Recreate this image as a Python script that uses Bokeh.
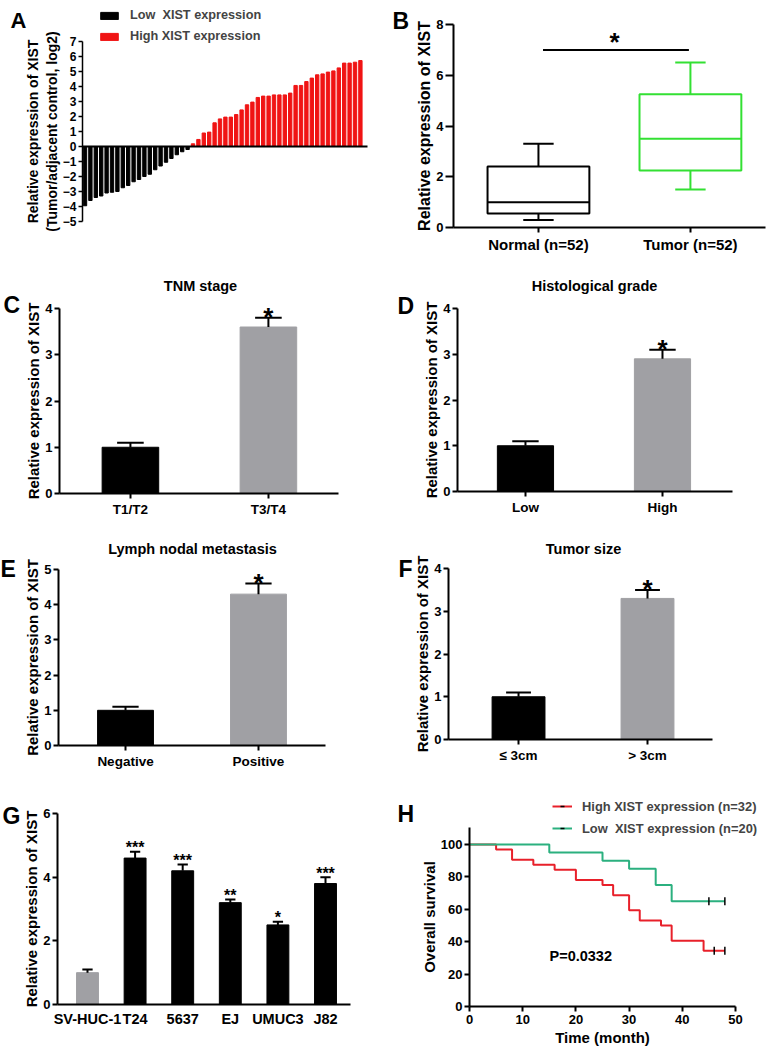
import math
from bokeh.plotting import figure
from bokeh.models import Range1d, FixedTicker, Label, Legend, LegendItem, ColumnDataSource
from bokeh.layouts import row, column
from bokeh.embed import file_html
from bokeh.resources import INLINE
from bokeh.core.properties import value

FONT = "Liberation Sans"
GREY = "#a0a0a4"
RED_A = "#f01414"
GREEN_B = "#33e033"
RED_H = "#e8202a"
GREEN_H = "#2bb07f"

# ---------------- data ----------------
a_low = [-3.95, -3.6, -3.4, -3.3, -3.1, -3.05, -3.0, -2.75, -2.6, -2.35,
         -2.2, -2.0, -1.85, -1.55, -1.3, -1.05, -0.8, -0.55, -0.35, -0.2]
a_high = [0.18, 0.47, 0.9, 0.96, 1.58, 1.84, 1.96, 1.96, 2.13, 2.44, 2.78, 2.96,
          3.27, 3.36, 3.36, 3.44, 3.44, 3.44, 3.56, 4.07, 4.07, 4.33, 4.56, 4.78,
          4.84, 4.96, 5.04, 5.24, 5.56, 5.56, 5.62, 5.73]
a_ticks = list(range(-5, 8))
a_legend = ["Low  XIST expression", "High XIST expression"]

b_groups = ["Normal (n=52)", "Tumor (n=52)"]
b_min = [0.3, 1.5]
b_q1 = [0.55, 2.25]
b_med = [1.0, 3.5]
b_q3 = [2.4, 5.25]
b_max = [3.3, 6.5]
b_ticks = [0, 2, 4, 6, 8]
b_sig_y = 7.0

c_cats = ["T1/T2", "T3/T4"]; c_mean = [1.0, 3.6]; c_err = [0.1, 0.2]; c_stars = ["", "*"]
d_cats = ["Low", "High"]; d_mean = [1.0, 2.9]; d_err = [0.1, 0.2]; d_stars = ["", "*"]
e_cats = ["Negative", "Positive"]; e_mean = [1.0, 4.3]; e_err = [0.1, 0.3]; e_stars = ["", "*"]
f_cats = ["\u2264 3cm", "> 3cm"]; f_mean = [1.0, 3.3]; f_err = [0.1, 0.2]; f_stars = ["", "*"]
g_cats = ["SV-HUC-1", "T24", "5637", "EJ", "UMUC3", "J82"]
g_mean = [1.0, 4.6, 4.2, 3.2, 2.5, 3.8]
g_err = [0.1, 0.2, 0.2, 0.1, 0.1, 0.2]
g_stars = ["", "***", "***", "**", "*", "***"]

h_high_t = [0, 5, 8, 12, 16, 20, 25, 27, 30, 32, 36, 38, 44, 48]
h_high_s = [100, 96.9, 90.6, 87.5, 84.4, 78.1, 75.0, 68.75, 59.4, 53.1, 50.0, 40.6, 34.4, 34.4]
h_high_cens_t = [46, 48]
h_low_t = [0, 15, 25, 30, 35, 38, 48]
h_low_s = [100, 95, 90, 85, 75, 65, 65]
h_low_cens_t = [45, 48]
h_legend = ["High XIST expression (n=32)", "Low  XIST expression (n=20)"]

# ---------------- layout (reference pixel coordinates) ----------------
COL_X = [0, 390]
COL_W = [390, 379]
ROW_Y = [0, 254, 515, 770]
ROW_H = [254, 261, 255, 279]


class Geo:
    def __init__(self, ox, oy, W, H, x0, y1, sx, sy):
        self.ox, self.oy, self.W, self.H = ox, oy, W, H
        self.x0, self.y1, self.sx, self.sy = x0, y1, sx, sy

    def dx(self, rx):
        return self.x0 + (rx - self.ox) / self.sx

    def dy(self, ry):
        return self.y1 - (ry - self.oy) / self.sy


def new_fig(col, rowi, frame, xr, yr, ybounds=None):
    fl, ft, fr, fb = frame
    W, H = COL_W[col], ROW_H[rowi]
    ox, oy = COL_X[col], ROW_Y[rowi]
    sx = (fr - fl) / (xr[1] - xr[0])
    sy = (fb - ft) / (yr[1] - yr[0])
    x0 = xr[0] - (fl - ox) / sx
    x1 = xr[1] + (ox + W - fr) / sx
    y0 = yr[0] - (oy + H - fb) / sy
    y1 = yr[1] + (ft - oy) / sy
    p = figure(width=W, height=H, x_range=Range1d(x0, x1), y_range=Range1d(y0, y1),
               output_backend="svg", toolbar_location=None,
               min_border_left=0, min_border_right=0, min_border_top=0, min_border_bottom=0)
    p.xgrid.visible = False
    p.ygrid.visible = False
    p.outline_line_color = None
    p.xaxis.fixed_location = yr[0]
    p.xaxis.bounds = tuple(xr)
    p.yaxis.fixed_location = xr[0]
    p.yaxis.bounds = tuple(ybounds if ybounds else yr)
    for ax in p.axis:
        ax.axis_line_width = 2
        ax.major_tick_line_width = 2
        ax.major_tick_in = 0
        ax.major_tick_out = 5
        ax.minor_tick_line_color = None
        ax.major_label_text_font = FONT
        ax.major_label_text_font_style = "bold"
        ax.major_label_text_font_size = "13px"
        ax.major_label_text_color = "black"
        ax.major_label_standoff = 2
        ax.axis_label_text_font = FONT
        ax.axis_label_text_font_style = "bold"
        ax.axis_label_text_font_size = "15px"
        ax.axis_label_text_color = "black"
        ax.axis_label_standoff = 0
    return p, Geo(ox, oy, W, H, x0, y1, sx, sy)


def ref_text(p, g, text, rx, ry, size, align="left", style="bold"):
    p.add_layout(Label(x=g.dx(rx), y=g.dy(ry), text=text, text_font=FONT,
                       text_font_style=style, text_font_size=size, text_align=align,
                       text_baseline="alphabetic", text_color="black"))


def legend_loc(g, rx, ry_bottom):
    return (rx - g.ox, g.oy + g.H - ry_bottom)


def cat_axis(p, cats, size="13px"):
    xs = list(range(len(cats)))
    p.xaxis.ticker = FixedTicker(ticks=xs)
    p.xaxis.major_label_overrides = {i: c for i, c in enumerate(cats)}
    p.xaxis.major_label_text_font_size = size
    p.xaxis.major_label_standoff = 3
    return xs


def bar_panel(col, rowi, frame, xr, ymax, yticks, cats, means, errs, stars,
              colors, bw, star_size, star_off, label_size="13.5px", xtick_out=5):
    p, g = new_fig(col, rowi, frame, xr, (0, ymax))
    xs = cat_axis(p, cats, label_size)
    p.xaxis.major_tick_out = xtick_out
    p.yaxis.ticker = FixedTicker(ticks=yticks)
    p.yaxis.axis_label = "Relative expression of XIST"
    tops = [m + e for m, e in zip(means, errs)]
    cap = bw * 0.47
    src = ColumnDataSource(dict(x=xs, m=means, t=tops, c=colors,
                                x0=[x - cap / 2 for x in xs], x1=[x + cap / 2 for x in xs],
                                s=stars))
    p.vbar(x="x", top="m", bottom=0, width=bw, fill_color="c", line_color="c", source=src)
    p.segment(x0="x", y0="m", x1="x", y1="t", line_color="black", line_width=2, source=src)
    p.segment(x0="x0", y0="t", x1="x1", y1="t", line_color="black", line_width=2, source=src)
    p.text(x="x", y="t", text="s", source=src, text_font=value(FONT), text_font_style="bold",
           text_font_size=star_size, text_align="center", text_baseline="alphabetic",
           text_color="black", y_offset=star_off)
    return p, g


# ---------------- Panel A ----------------
fA = (82, 41, 367, 221)
pA, gA = new_fig(0, 0, fA, (-0.463, 52.315), (-5, 7))
pA.xaxis.fixed_location = 0
pA.xaxis.ticker = FixedTicker(ticks=[])
pA.xaxis.major_tick_out = 0
pA.yaxis.ticker = FixedTicker(ticks=a_ticks)
pA.yaxis.axis_line_width = 1.5
pA.yaxis.major_tick_line_width = 1.5
pA.yaxis.major_tick_out = 4
pA.yaxis.major_label_text_font_size = "12px"
pA.yaxis.axis_label = "Relative expression of XIST\n(Tumor/adjacent control, log2)"
pA.yaxis.axis_label_text_font_size = "14px"
n_low = len(a_low)
rl = pA.vbar(x=list(range(n_low)), top=a_low, bottom=0, width=0.62,
             fill_color="black", line_color="black")
rh = pA.vbar(x=list(range(n_low, n_low + len(a_high))), top=a_high, bottom=0, width=0.62,
             fill_color=RED_A, line_color=RED_A)
legA = Legend(items=[LegendItem(label=a_legend[0], renderers=[rl]),
                     LegendItem(label=a_legend[1], renderers=[rh])],
              location=legend_loc(gA, 98, 44), glyph_width=22, glyph_height=9, label_standoff=10,
              spacing=5, padding=0, margin=0, label_height=16,
              label_text_font=FONT, label_text_font_style="bold", label_text_font_size="12.7px",
              border_line_color=None, background_fill_alpha=0)
pA.add_layout(legA)
ref_text(pA, gA, "A", 10, 20, "22px")

# ---------------- Panel B ----------------
fB = (453, 24, 765, 227)
pB, gB = new_fig(1, 0, fB, (-0.559, 1.494), (0, 8))
xsB = cat_axis(pB, b_groups, "15px")
pB.yaxis.ticker = FixedTicker(ticks=b_ticks)
pB.yaxis.axis_label = "Relative expression of XIST"
pB.yaxis.axis_label_text_font_size = "16px"
pB.yaxis.major_tick_out = 8
bw, cw = 0.67, 0.2
srcB = ColumnDataSource(dict(x=xsB, lo=b_min, q1=b_q1, med=b_med, q3=b_q3, hi=b_max,
                             c=["black", GREEN_B],
                             bx0=[x - bw / 2 for x in xsB], bx1=[x + bw / 2 for x in xsB],
                             cx0=[x - cw / 2 for x in xsB], cx1=[x + cw / 2 for x in xsB]))
pB.segment(x0="x", y0="lo", x1="x", y1="q1", line_color="c", line_width=2, source=srcB)
pB.segment(x0="x", y0="q3", x1="x", y1="hi", line_color="c", line_width=2, source=srcB)
pB.segment(x0="cx0", y0="lo", x1="cx1", y1="lo", line_color="c", line_width=2, source=srcB)
pB.segment(x0="cx0", y0="hi", x1="cx1", y1="hi", line_color="c", line_width=2, source=srcB)
pB.vbar(x="x", bottom="q1", top="q3", width=bw, fill_color="white", line_color="c",
        line_width=2, source=srcB)
pB.segment(x0="bx0", y0="med", x1="bx1", y1="med", line_color="c", line_width=2, source=srcB)
pB.segment(x0=[xsB[0] + 0.03], y0=[b_sig_y], x1=[xsB[1] - 0.01], y1=[b_sig_y],
           line_color="black", line_width=2)
pB.text(x=[(xsB[0] + xsB[1]) / 2], y=[b_sig_y], text=["*"], text_font=value(FONT),
        text_font_style="bold", text_font_size="26px", text_align="center",
        text_baseline="alphabetic", y_offset=-8)
ref_text(pB, gB, "B", 392, 20, "23px")

# ---------------- Panel C ----------------
fC = (59, 308, 338, 493)
pC, gC = bar_panel(0, 1, fC, (-0.514, 1.508), 4, [0, 1, 2, 3, 4], c_cats, c_mean, c_err,
                   c_stars, ["black", GREY], 0.41, "26px", -1)
ref_text(pC, gC, "TNM stage", 200, 285, "14.5px", align="center")
ref_text(pC, gC, "C", 3, 304, "23px")

# ---------------- Panel D ----------------
fD = (457, 308, 732, 491)
pD, gD = bar_panel(1, 1, fD, (-0.496, 1.511), 4, [0, 1, 2, 3, 4], d_cats, d_mean, d_err,
                   d_stars, ["black", GREY], 0.41, "26px", -1)
ref_text(pD, gD, "Histological grade", 594, 285, "14.5px", align="center")
ref_text(pD, gD, "D", 397, 305, "23px")

# ---------------- Panel E ----------------
fE = (58, 569, 325, 745)
pE, gE = bar_panel(0, 2, fE, (-0.504, 1.504), 5, [0, 1, 2, 3, 4, 5], e_cats, e_mean, e_err,
                   e_stars, ["black", GREY], 0.42, "26px", -1)
ref_text(pE, gE, "Lymph nodal metastasis", 192, 548, "14.5px", align="center")
ref_text(pE, gE, "E", 0, 568, "23px")

# ---------------- Panel F ----------------
fF = (448, 568, 712, 739)
pF, gF = bar_panel(1, 2, fF, (-0.543, 1.504), 4, [0, 1, 2, 3, 4], f_cats, f_mean, f_err,
                   f_stars, ["black", GREY], 0.41, "26px", -1)
ref_text(pF, gF, "Tumor size", 583, 548, "14.5px", align="center")
ref_text(pF, gF, "F", 398, 568, "23px")

# ---------------- Panel G ----------------
fG = (57, 813, 350, 1004)
pG, gG = bar_panel(0, 3, fG, (-0.63, 5.525), 6, [0, 2, 4, 6], g_cats, g_mean, g_err,
                   g_stars, [GREY] + ["black"] * 5, 0.46, "16px", -4, label_size="14.5px",
                   xtick_out=0)
pG.xaxis.major_label_standoff = 6
ref_text(pG, gG, "G", 2, 815, "23px")

# ---------------- Panel H ----------------
fH = (469, 844, 735, 1006)
pH, gH = new_fig(1, 3, fH, (0, 50), (0, 100), ybounds=(0, 110.5))
pH.xaxis.ticker = FixedTicker(ticks=[0, 10, 20, 30, 40, 50])
pH.yaxis.ticker = FixedTicker(ticks=[0, 20, 40, 60, 80, 100])
pH.xaxis.major_label_standoff = 3
pH.xaxis.axis_label = "Time (month)"
pH.yaxis.axis_label = "Overall survival"
pH.xaxis.axis_label_standoff = 2
r1 = pH.step(h_high_t, h_high_s, mode="after", line_color=RED_H, line_width=2)
r2 = pH.step(h_low_t, h_low_s, mode="after", line_color=GREEN_H, line_width=2)
c1 = pH.scatter(h_high_cens_t, [h_high_s[-1]] * len(h_high_cens_t), marker="dash",
                angle=math.pi / 2, size=8, line_color="black", line_width=1.5)
c2 = pH.scatter(h_low_cens_t, [h_low_s[-1]] * len(h_low_cens_t), marker="dash",
                angle=math.pi / 2, size=8, line_color="black", line_width=1.5)
legH = Legend(items=[LegendItem(label=h_legend[0], renderers=[r1, c1]),
                     LegendItem(label=h_legend[1], renderers=[r2, c2])],
              location=legend_loc(gH, 552, 836), glyph_width=20, glyph_height=10,
              label_standoff=10, spacing=6, padding=0, margin=0, label_height=16,
              label_text_font=FONT, label_text_font_style="bold", label_text_font_size="12.9px",
              border_line_color=None, background_fill_alpha=0)
pH.add_layout(legH)
ref_text(pH, gH, "P=0.0332", 549, 955, "14.5px")
ref_text(pH, gH, "H", 397, 813, "23px")

layout = column(row(pA, pB), row(pC, pD), row(pE, pF), row(pG, pH))
open("out.html", "w").write(file_html(layout, INLINE))
